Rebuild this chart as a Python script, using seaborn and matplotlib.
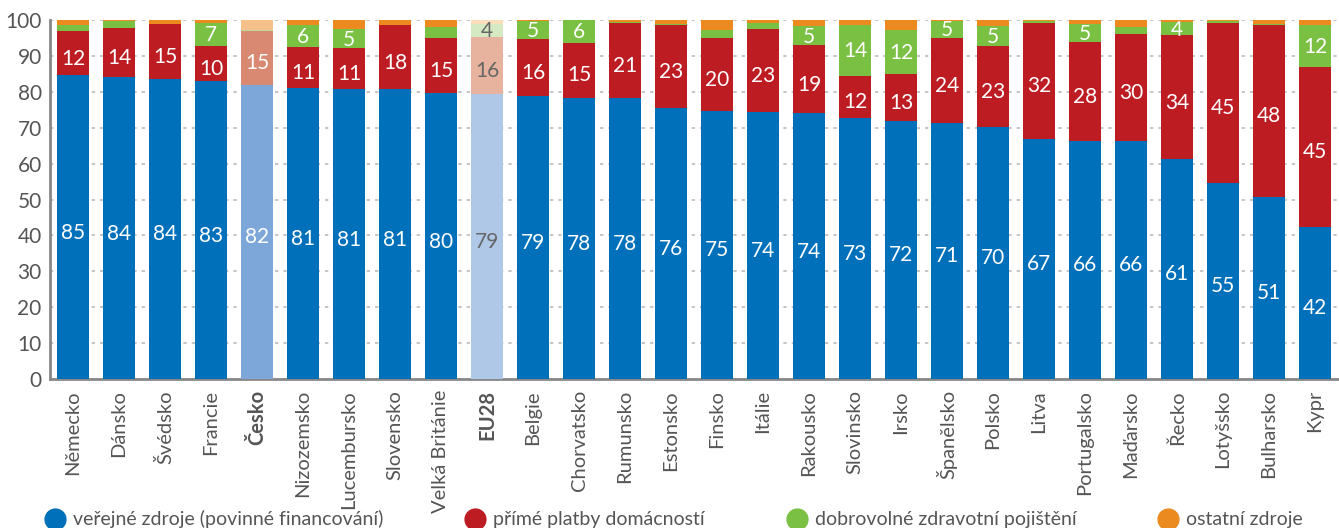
import numpy as np
import pandas as pd
import seaborn as sns
import matplotlib.pyplot as plt
from matplotlib.lines import Line2D

# data (% of current health expenditure)
countries = ['Německo', 'Dánsko', 'Švédsko', 'Francie', 'Česko', 'Nizozemsko',
             'Lucembursko', 'Slovensko', 'Velká Británie', 'EU28', 'Belgie',
             'Chorvatsko', 'Rumunsko', 'Estonsko', 'Finsko', 'Itálie', 'Rakousko',
             'Slovinsko', 'Irsko', 'Španělsko', 'Polsko', 'Litva', 'Portugalsko',
             'Maďarsko', 'Řecko', 'Lotyšsko', 'Bulharsko', 'Kypr']
public = [84.6, 84.0, 83.6, 82.9, 81.9, 81.1, 80.7, 80.7, 79.6, 79.4, 78.7,
          78.4, 78.2, 75.6, 74.7, 74.4, 74.0, 72.7, 71.9, 71.3, 70.2, 66.9,
          66.3, 66.3, 61.3, 54.6, 50.7, 42.3]
oop = [12.3, 13.8, 15.2, 9.8, 15.0, 11.4, 11.4, 17.9, 15.3, 15.9, 16.1,
       15.3, 20.9, 22.9, 20.4, 23.1, 18.9, 11.8, 13.1, 23.8, 22.6, 32.4,
       27.7, 29.7, 34.4, 44.7, 48.0, 44.7]
voluntary = [1.6, 2.0, 0.2, 6.6, 0.2, 6.0, 5.3, 0.1, 3.1, 3.6, 5.0,
             6.3, 0.4, 0.3, 2.2, 1.7, 5.4, 14.1, 12.3, 4.6, 5.4, 0.5,
             4.9, 2.0, 3.7, 0.5, 0.2, 11.6]
other = [100 - a - b - c for a, b, c in zip(public, oop, voluntary)]

series_names = ['veřejné zdroje (povinné financování)', 'přímé platby domácností',
                'dobrovolné zdravotní pojištění', 'ostatní zdroje']
highlight = {'Česko': 'cz', 'EU28': 'eu'}

base_colors = ['#0070BB', '#BE1C23', '#7AC043', '#EB8B1F']
cz_colors = ['#7DA7D8', '#D98971', '#B6DC9B', '#F6C08A']
eu_colors = ['#AFC8E8', '#E7B39F', '#D5E9C3', '#FBDEBC']

df = pd.DataFrame({'country': countries, 'public': public, 'oop': oop,
                   'voluntary': voluntary, 'other': other})
df['c1'] = df['public']
df['c2'] = df['c1'] + df['oop']
df['c3'] = df['c2'] + df['voluntary']
df['c4'] = df['c3'] + df['other']


def palette_for(i):
    pal = {}
    for c in countries:
        kind = highlight.get(c)
        if kind == 'cz':
            pal[c] = cz_colors[i]
        elif kind == 'eu':
            pal[c] = eu_colors[i]
        else:
            pal[c] = base_colors[i]
    return pal


sns.set_style('white')
plt.rcParams['font.family'] = ['Lato', 'DejaVu Sans']

fig = plt.figure(figsize=(13.39, 5.28), dpi=100)
ax = fig.add_axes([50 / 1339, 1 - 379 / 528, 1288 / 1339, 359 / 528])

# stacked bars drawn from the top total down
for i, col in reversed(list(enumerate(['c1', 'c2', 'c3', 'c4']))):
    sns.barplot(data=df, x='country', y=col, hue='country', palette=palette_for(i),
                width=0.7, legend=False, ax=ax, saturation=1, zorder=3,
                linewidth=0)

# value labels
for j, c in enumerate(countries):
    txt_col = '#666666' if c == 'EU28' else 'white'
    segs = [(0, public[j]), (public[j], public[j] + oop[j]),
            (public[j] + oop[j], public[j] + oop[j] + voluntary[j])]
    for k, (lo, hi) in enumerate(segs):
        v = hi - lo
        if k == 2 and v < 3.5:
            continue
        off = -1.5 if k < 2 else -0.3
        ax.text(j, (lo + hi) / 2 + off, f'{v:.0f}', ha='center', va='center',
                color=txt_col, fontsize=15, zorder=5)

ax.set_ylim(0, 100)
ax.set_xlim(-0.5, len(countries) - 0.5)
ax.set_yticks(range(0, 101, 10))
ax.yaxis.grid(True, linestyle=(0, (2, 3)), color='#BBBBBB', linewidth=1.2, zorder=0)
ax.set_axisbelow(True)
ax.set_xlabel('')
ax.set_ylabel('')
ax.tick_params(axis='y', labelsize=15, labelcolor='#555555', length=0, pad=6)
ax.tick_params(axis='x', labelsize=14.5, labelcolor='#555555', length=0, pad=8)
ax.set_xticks(range(len(countries)))
ax.set_xticklabels(countries, rotation=90)
for lbl in ax.get_xticklabels():
    if lbl.get_text() in highlight:
        lbl.set_fontweight('bold')
for s in ['top', 'right']:
    ax.spines[s].set_visible(False)
for s in ['left', 'bottom']:
    ax.spines[s].set_color('#888888')
    ax.spines[s].set_linewidth(2)

# legend along the bottom
leg_x = [55, 475, 797, 1168]
for x, name, col in zip(leg_x, series_names, base_colors):
    fig.add_artist(Line2D([x / 1339], [9 / 528], marker='o', markersize=15,
                          color=col, linestyle='none', transform=fig.transFigure))
    fig.text((x + 18) / 1339, 9 / 528, name, ha='left', va='center',
             fontsize=14, color='#555555')

fig.savefig('out.png', dpi=100)
